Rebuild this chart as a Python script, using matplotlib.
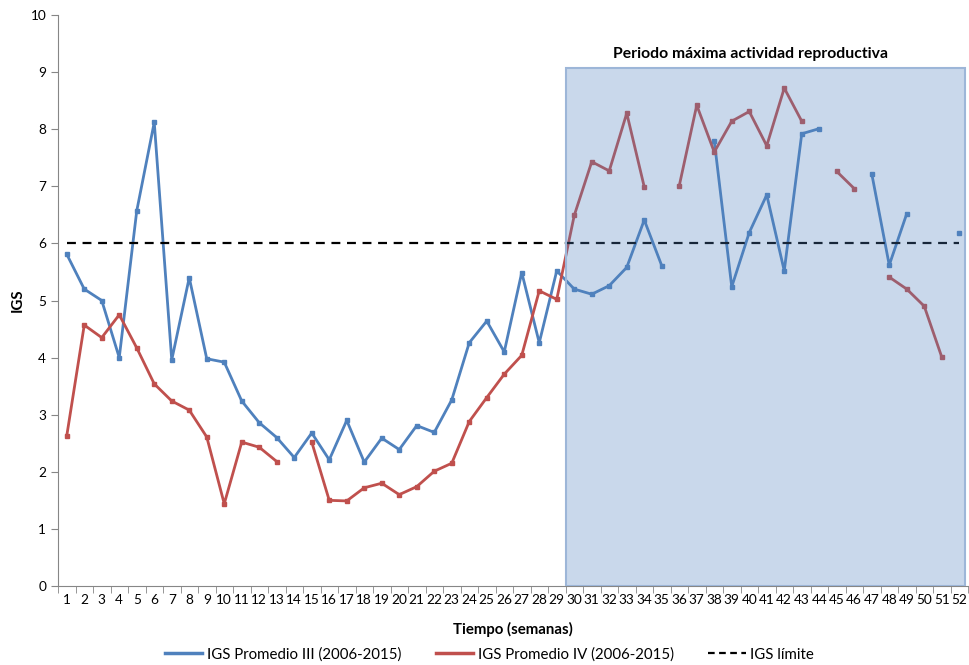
import numpy as np
import matplotlib
matplotlib.use("Agg")
import matplotlib.pyplot as plt
from matplotlib.patches import Rectangle
from matplotlib.lines import Line2D

plt.rcParams['font.family'] = ['Lato', 'DejaVu Sans']

nan = np.nan
weeks = list(range(1, 53))

igs_iii = [5.81, 5.20, 5.00, 4.00, 6.57, 8.12, 3.96, 5.40, 3.98, 3.92,
           3.24, 2.86, 2.60, 2.25, 2.68, 2.21, 2.90, 2.17, 2.59, 2.39,
           2.81, 2.69, 3.26, 4.26, 4.64, 4.10, 5.49, 4.26, 5.52, 5.20,
           5.11, 5.26, 5.58, 6.41, 5.61, nan, nan, 7.80, 5.24, 6.19,
           6.85, 5.52, 7.92, 8.01, nan, nan, 7.22, 5.62, 6.52, nan,
           nan, 6.18]

igs_iv = [2.63, 4.57, 4.35, 4.75, 4.17, 3.54, 3.24, 3.08, 2.61, 1.44,
          2.52, 2.43, 2.18, nan, 2.52, 1.50, 1.49, 1.72, 1.80, 1.60,
          1.74, 2.01, 2.15, 2.88, 3.30, 3.71, 4.04, 5.17, 5.02, 6.49,
          7.43, 7.27, 8.28, 6.99, nan, 7.01, 8.42, 7.60, 8.14, 8.31,
          7.71, 8.72, 8.14, nan, 7.26, 6.96, nan, 5.41, 5.20, 4.90,
          4.01, nan]

igs_limite = 6.0
periodo = (29.55, 52.35, 9.07)  # start week, end week, top
labels = ['IGS Promedio III (2006-2015)', 'IGS Promedio IV (2006-2015)',
          'IGS límite']

BLUE = '#4F81BD'
RED = '#C0504D'
GRAY = '#868686'

fig = plt.figure(figsize=(9.69, 6.65), dpi=100)
ax = fig.add_axes([58 / 969, 79 / 665, 910 / 969, 571 / 665])

ax.plot(weeks, igs_iii, color=BLUE, lw=2.0, marker='s', ms=2.8)
ax.plot(weeks, igs_iv, color=RED, lw=2.0, marker='s', ms=2.8)
ax.hlines(igs_limite, weeks[0], weeks[-1], colors='black', lw=1.6,
          linestyles=(0, (4, 3)))

# shaded period, drawn over the lines like the original
x0, x1, top = periodo
ax.add_patch(Rectangle((x0, 0), x1 - x0, top, facecolor=BLUE, alpha=0.3,
                       edgecolor='none', zorder=5))
ax.add_patch(Rectangle((x0, 0), x1 - x0, top, facecolor='none',
                       edgecolor='#9DB6D8', lw=1.5, zorder=6))
ax.text(40.05, top + 0.12, 'Periodo máxima actividad reproductiva',
        ha='center', va='bottom', fontsize=11.3, fontweight='bold')

ax.set_xlim(0.5, 52.5)
ax.set_ylim(0, 10)
ax.set_xticks(weeks)
ax.set_xticks(np.arange(0.5, 53, 1), minor=True)
ax.set_yticks(range(0, 11))
ax.tick_params(axis='x', which='major', length=0, labelsize=9.8, pad=6)
ax.tick_params(axis='x', which='minor', length=5, color=GRAY, direction='out')
ax.tick_params(axis='y', length=5, color=GRAY, labelsize=9.8)

for s in ['top', 'right']:
    ax.spines[s].set_visible(False)
for s in ['left', 'bottom']:
    ax.spines[s].set_color(GRAY)

ax.set_xlabel('Tiempo (semanas)', fontsize=10.8, fontweight='bold', labelpad=11)
ax.set_ylabel('IGS', fontsize=10.8, fontweight='bold')
ax.yaxis.set_label_coords(-0.036, 0.5)

leg_handles = [Line2D([], [], color=BLUE, lw=2.5),
               Line2D([], [], color=RED, lw=2.5),
               Line2D([], [], color='black', lw=1.6, ls=(0, (3, 2)))]
fig.legend(leg_handles, labels, loc='center', bbox_to_anchor=(0.505, 0.016),
           ncol=3, frameon=False, fontsize=10.8, columnspacing=2.3,
           handlelength=2.5, handletextpad=0.3)

fig.savefig('out.png', dpi=100)
